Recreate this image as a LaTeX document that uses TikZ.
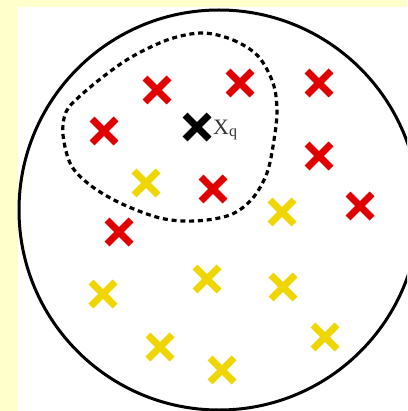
\documentclass[tikz,border=0pt]{standalone}
\usepackage{fontspec}
\setmainfont{Liberation Serif}
\definecolor{bgyellow}{RGB}{255,255,204}
\definecolor{xred}{RGB}{224,0,0}
\definecolor{xyellow}{RGB}{240,214,0}
\tikzset{
  xmark/.style={line width=7pt},
  pt/.pic={\draw[xmark,#1] (-12,-12) -- (12,12) (-12,12) -- (12,-12);}
}
\begin{document}
\begin{tikzpicture}[x=1pt,y=-1pt]
\fill[bgyellow] (0,0) rectangle (407,411);
\useasboundingbox (0,0) rectangle (407,411);
\fill[white] (18,7) rectangle (407,411);
\begin{scope}
\clip (0,0) rectangle (407,411);
\draw[line width=3pt] (219,210) circle[radius=200];
\end{scope}
\draw[line width=3.2pt, dash pattern=on 5pt off 3.8pt] plot[smooth cycle, tension=0.55] coordinates {
(203,33) (233,40) (258,56) (273,83) (277,110) (274,140) (267,173) (252,199) (230,215) (195,221) (160,218) (120,203) (90,185) (71,165) (63,135) (66,112) (80,96) (108,73) (135,55) (170,39)};
% red crosses
\foreach \p in {(157,90),(240,83),(319,83),(104,131),(319,156),(213,189),(360,206),(119,232)}
  \path \p pic {pt=xred};
% yellow crosses
\foreach \p in {(146,183),(282,212),(207,279),(283,287),(103,294),(160,347),(325,337),(222,370)}
  \path \p pic {pt=xyellow};
% query point
\path (197,127) pic {pt=black};
\node[anchor=base west, inner sep=0pt, text=black!80] (xq) at (213,135) {\fontsize{22}{22}\selectfont X\raisebox{-2pt}{\fontsize{16}{16}\selectfont q}};
\end{tikzpicture}
\end{document}
